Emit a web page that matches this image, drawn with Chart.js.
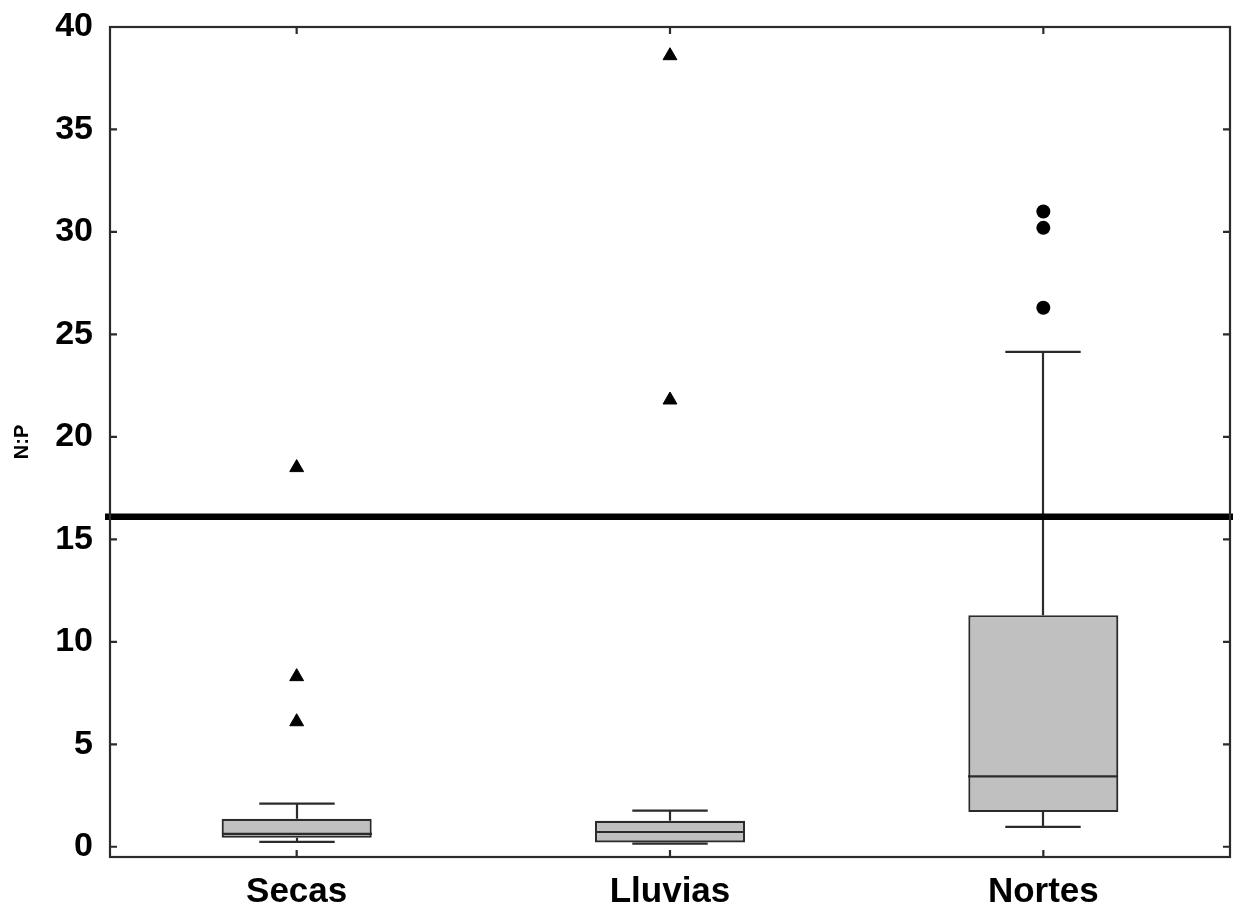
<!DOCTYPE html>
<html>
<head>
<meta charset="utf-8">
<script src="https://cdn.jsdelivr.net/npm/chart.js@4.4.1/dist/chart.umd.min.js"></script>
<style>
  html, body { margin: 0; padding: 0; background: #ffffff; }
  canvas { display: block; }
</style>
</head>
<body>
<canvas id="c" width="1233" height="907"></canvas>
<script>
// ---- data ----
const categories = ['Secas', 'Lluvias', 'Nortes'];
const whiskerMin = [0.24, 0.15, 0.97];
const q1 = [0.44, 0.21, 1.69];
const median = [0.63, 0.72, 3.43];
const q3 = [1.37, 1.27, 11.3];
const whiskerMax = [2.1, 1.76, 24.15];
const triangleOutliers = [
  { x: 'Secas', y: 18.5 }, { x: 'Secas', y: 8.3 }, { x: 'Secas', y: 6.1 },
  { x: 'Lluvias', y: 38.6 }, { x: 'Lluvias', y: 21.8 }
];
const circleOutliers = [
  { x: 'Nortes', y: 31.0 }, { x: 'Nortes', y: 30.2 }, { x: 'Nortes', y: 26.3 }
];
const referenceRatio = 16.1;
const yTicks = [0, 5, 10, 15, 20, 25, 30, 35, 40];
const yAxisTitle = 'N:P';

const INK = '#2b2b2b';

const boxPlugin = {
  id: 'boxExtras',
  afterDatasetsDraw(chart) {
    const ctx = chart.ctx;
    const x = chart.scales.x, y = chart.scales.y;
    const catW = x.width / categories.length;
    const boxHalf = catW * 0.201;
    const capHalf = catW * 0.101;
    ctx.save();
    ctx.strokeStyle = INK;
    ctx.lineWidth = 2.2;
    categories.forEach((c, i) => {
      const cx = Math.round(x.getPixelForValue(i));
      ctx.beginPath();
      ctx.moveTo(cx, y.getPixelForValue(q3[i]));
      ctx.lineTo(cx, y.getPixelForValue(whiskerMax[i]));
      ctx.moveTo(cx - capHalf, y.getPixelForValue(whiskerMax[i]));
      ctx.lineTo(cx + capHalf, y.getPixelForValue(whiskerMax[i]));
      ctx.moveTo(cx, y.getPixelForValue(q1[i]));
      ctx.lineTo(cx, y.getPixelForValue(whiskerMin[i]));
      ctx.moveTo(cx - capHalf, y.getPixelForValue(whiskerMin[i]));
      ctx.lineTo(cx + capHalf, y.getPixelForValue(whiskerMin[i]));
      ctx.moveTo(cx - boxHalf, y.getPixelForValue(median[i]));
      ctx.lineTo(cx + boxHalf, y.getPixelForValue(median[i]));
      ctx.stroke();
    });
    ctx.strokeStyle = '#000';
    ctx.lineWidth = 6.5;
    ctx.beginPath();
    const ry = y.getPixelForValue(referenceRatio);
    ctx.moveTo(chart.chartArea.left - 5, ry);
    ctx.lineTo(chart.width, ry);
    ctx.stroke();
    ctx.restore();
  },
  afterDraw(chart) {
    const ctx = chart.ctx;
    const a = chart.chartArea;
    const x = chart.scales.x, y = chart.scales.y;
    ctx.save();
    ctx.strokeStyle = INK;
    ctx.lineWidth = 2.2;
    ctx.strokeRect(a.left, a.top, a.right - a.left, a.bottom - a.top);
    const tl = 7;
    ctx.beginPath();
    yTicks.forEach(v => {
      const py = y.getPixelForValue(v);
      ctx.moveTo(a.left, py); ctx.lineTo(a.left + tl, py);
      ctx.moveTo(a.right, py); ctx.lineTo(a.right - tl, py);
    });
    categories.forEach((c, i) => {
      const px = x.getPixelForValue(i);
      ctx.moveTo(px, a.bottom); ctx.lineTo(px, a.bottom - tl);
      ctx.moveTo(px, a.top); ctx.lineTo(px, a.top + tl);
    });
    ctx.stroke();
    ctx.restore();
  }
};

function zeroPad(scale) {
  scale.paddingTop = 0; scale.paddingBottom = 0;
  scale.paddingLeft = 0; scale.paddingRight = 0;
}

new Chart(document.getElementById('c'), {
  data: {
    labels: categories,
    datasets: [
      {
        type: 'bar',
        data: q1.map((v, i) => [v, q3[i]]),
        backgroundColor: '#c0c0c0',
        borderColor: INK,
        borderWidth: 2.2,
        borderSkipped: false,
        barPercentage: 1.0,
        categoryPercentage: 0.402,
        order: 3
      },
      {
        type: 'line',
        data: triangleOutliers,
        showLine: false,
        pointStyle: 'triangle',
        pointRadius: 8,
        pointBackgroundColor: '#000',
        pointBorderColor: '#000',
        pointBorderWidth: 1,
        order: 1
      },
      {
        type: 'line',
        data: circleOutliers,
        showLine: false,
        pointStyle: 'circle',
        pointRadius: 7,
        pointBackgroundColor: '#000',
        pointBorderColor: '#000',
        pointBorderWidth: 0,
        order: 1
      }
    ]
  },
  options: {
    responsive: false,
    animation: false,
    devicePixelRatio: 1,
    layout: { autoPadding: false, padding: { top: 27, right: 3, bottom: 0, left: 0 } },
    plugins: { legend: { display: false }, tooltip: { enabled: false } },
    scales: {
      x: {
        type: 'category',
        offset: true,
        grid: { display: false, drawTicks: false },
        border: { display: false },
        ticks: {
          color: '#000',
          padding: 14,
          font: { family: 'Liberation Sans', size: 35, weight: 'bold' }
        },
        afterFit(scale) { scale.height = 50; zeroPad(scale); }
      },
      y: {
        type: 'linear',
        min: -0.5,
        max: 40,
        grid: { display: false, drawTicks: false },
        border: { display: false },
        afterBuildTicks(scale) { scale.ticks = yTicks.map(v => ({ value: v })); },
        ticks: {
          color: '#000',
          padding: 17,
          font: { family: 'Liberation Sans', size: 34, weight: 'bold' }
        },
        title: {
          display: true,
          text: yAxisTitle,
          color: '#000',
          padding: { top: 10, bottom: 0 },
          font: { family: 'Liberation Sans', size: 20, weight: 'bold' }
        },
        afterFit(scale) { scale.width = 110; zeroPad(scale); }
      }
    }
  },
  plugins: [boxPlugin]
});
</script>
</body>
</html>
